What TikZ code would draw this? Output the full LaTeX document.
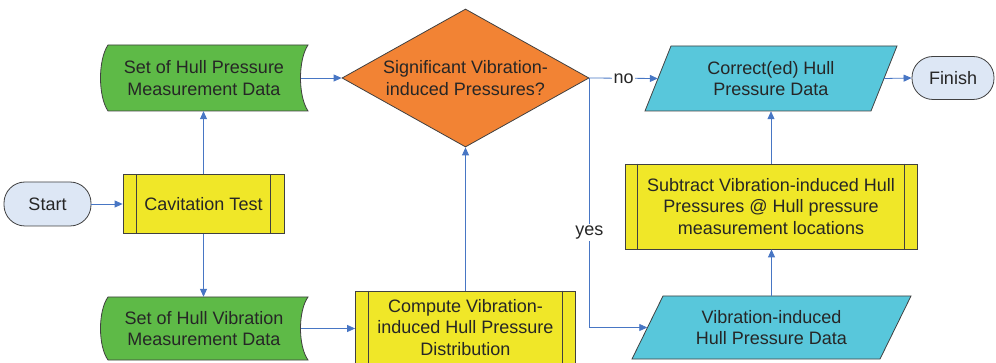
\documentclass[tikz,border=0pt]{standalone}
\usepackage{fontspec}
\setmainfont{Liberation Sans}
\usetikzlibrary{arrows.meta,calc,shapes.geometric}

\definecolor{storefill}{RGB}{94,186,71}
\definecolor{decfill}{RGB}{242,131,52}
\definecolor{procfill}{RGB}{240,231,40}
\definecolor{datafill}{RGB}{88,199,219}
\definecolor{termfill}{RGB}{221,231,245}
\definecolor{bordercol}{RGB}{64,64,64}
\definecolor{linecol}{RGB}{72,118,196}
\definecolor{textcol}{RGB}{38,38,38}

\begin{document}
\begin{tikzpicture}[x=1pt,y=-1pt,
  txt/.style={align=center,font=\fontsize{18}{21.5}\selectfont,text=textcol,inner sep=0pt},
  spot/.style 2 args={txt,minimum width=#1,minimum height=#2},
  outline/.style={draw=bordercol,line width=0.8pt},
  term/.style={txt,outline,fill=termfill,rounded corners=21pt},
  procbox/.style={txt,outline,fill=procfill},
  store/.style={outline,fill=storefill},
  datapar/.style={outline,fill=datafill},
  decision/.style={diamond,outline,fill=decfill,inner sep=0pt,
                   minimum width=247pt,minimum height=138pt},
  flow/.style={draw=linecol,line width=0.8pt,-{Triangle[length=8pt,width=7pt]}},
  lbl/.style={txt,fill=white,inner sep=1.5pt}]

\useasboundingbox (0,0) rectangle (996,363);

% terminals
\node[term,minimum width=87pt,minimum height=44pt] (start) at (47.5,204) {Start};
\node[term,minimum width=82pt,minimum height=43pt] (fin) at (953,78) {Finish};

% predefined processes
\node[procbox,minimum width=161pt,minimum height=59pt] (cav) at (203.5,204) {Cavitation Test};
\node[procbox,minimum width=220pt,minimum height=73pt] (cmp) at (465.5,327.5)
  {Compute Vibration-\\induced Hull Pressure\\Distribution};
\node[procbox,minimum width=292pt,minimum height=85pt] (sub) at (771,206.5)
  {Subtract Vibration-induced Hull\\Pressures @ Hull pressure\\measurement locations};
\foreach \n/\d in {cav/14,cmp/13.5,sub/13}{
  \draw[outline] ($(\n.north west)+(\d,0)$) -- ($(\n.south west)+(\d,0)$);
  \draw[outline] ($(\n.north east)+(-\d,0)$) -- ($(\n.south east)+(-\d,0)$);
}

% stored data
\filldraw[store] (108,45) -- (308,45) .. controls (298,60) and (298,96) .. (308,111)
  -- (108,111) .. controls (98,96) and (98,60) .. (108,45) -- cycle;
\node[spot={194pt}{66pt}] (hp) at (204,78) {Set of Hull Pressure\\Measurement Data};
\filldraw[store] (108,297) -- (308,297) .. controls (298,311) and (298,346) .. (308,360)
  -- (108,360) .. controls (98,346) and (98,311) .. (108,297) -- cycle;
\node[spot={194pt}{63pt}] (hv) at (204,328.5) {Set of Hull Vibration\\Measurement Data};

% decision
\node[decision] (q) at (465.5,78) {};
\node[txt] (qt) at (q) {Significant Vibration-\\induced Pressures?};

% data
\filldraw[datapar] (671,46) -- (897,46) -- (871,111) -- (645,111) -- cycle;
\node[spot={226pt}{65pt}] (cor) at (771,78.5) {Correct(ed) Hull\\Pressure Data};
\filldraw[datapar] (663,296) -- (911,296) -- (880,359) -- (632,359) -- cycle;
\node[spot={248pt}{63pt}] (vib) at (771.5,327.5) {Vibration-induced\\Hull Pressure Data};

% connectors
\draw[flow] (start) -- (cav);
\draw[flow] (cav.north) -- (cav.north |- hp.south);
\draw[flow] (cav.south) -- (cav.south |- hv.north);
\draw[flow] (hp.east) -- (q.west);
\draw[flow] (hv.east) -- (hv.east -| cmp.west);
\draw[flow] (q.south |- cmp.north) -- (q.south);
\draw[flow] (q.east) -- node[lbl] (no) {no} (cor.west);
\draw[flow] (q.east) |- node[lbl,pos=0.31] (yes) {yes} (vib.west);
\draw[flow] (vib.north) -- (vib.north |- sub.south);
\draw[flow] (sub.north) -- (sub.north |- cor.south);
\draw[flow] (cor.east) -- (fin.west);
\end{tikzpicture}
\end{document}
